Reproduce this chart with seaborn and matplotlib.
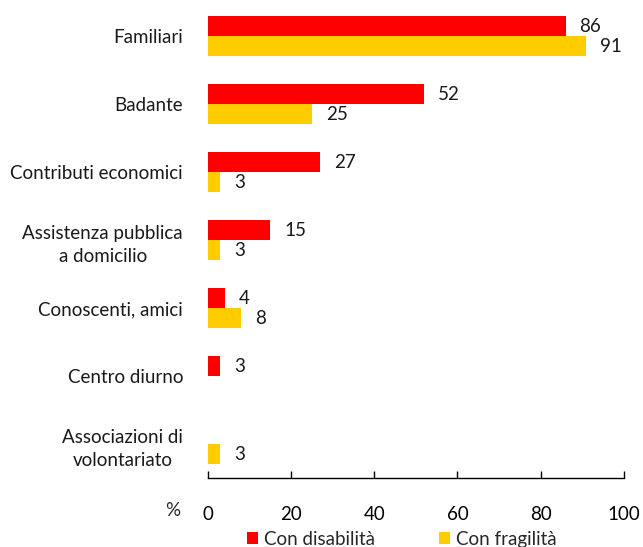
import matplotlib
matplotlib.use("Agg")
import matplotlib.pyplot as plt
import seaborn as sns
import pandas as pd
import numpy as np

categorie = ["Familiari", "Badante", "Contributi economici",
             "Assistenza pubblica\na domicilio", "Conoscenti, amici",
             "Centro diurno", "Associazioni di\nvolontariato"]
disabilita = [86, 52, 27, 15, 4, 3, None]
fragilita = [91, 25, 3, 3, 8, None, 3]
serie = ["Con disabilità", "Con fragilità"]
colori = ["#FF0000", "#FFCC00"]

rows = []
for c, d, f in zip(categorie, disabilita, fragilita):
    if d is not None:
        rows.append((c, serie[0], d))
    if f is not None:
        rows.append((c, serie[1], f))
df = pd.DataFrame(rows, columns=["categoria", "gruppo", "valore"])

sns.set_style("white")
plt.rcParams["font.family"] = ["Lato", "DejaVu Sans"]
fs = 13.5

fig = plt.figure(figsize=(6.43, 5.47), dpi=100)
ax = fig.add_axes([0.3235, 0.126, 0.6465, 0.870])

sns.barplot(data=df, y="categoria", x="valore", hue="gruppo", order=categorie,
            hue_order=serie, palette=colori, orient="h", width=0.59,
            saturation=1, errorbar=None, linewidth=0, ax=ax)

for cont in ax.containers:
    labels = [f"{v:.0f}" for v in cont.datavalues]
    ax.bar_label(cont, labels=labels, padding=10, fontsize=fs, color="#1a1a1a")

ax.set_xlim(0, 100)
ax.set_ylim(6.5, -0.5)
ax.set_xticks(np.arange(0, 101, 20))
ax.set_xlabel("")
ax.set_ylabel("")
for s in ["top", "right", "left"]:
    ax.spines[s].set_visible(False)
ax.spines["bottom"].set_color("black")
ax.spines["bottom"].set_linewidth(1)
ax.tick_params(axis="x", direction="in", length=5, width=1, pad=20,
               labelsize=fs, colors="black", bottom=True)
ax.tick_params(axis="y", length=0, pad=18, labelsize=fs)
for t in ax.get_yticklabels():
    t.set_multialignment("center")
    t.set_linespacing(1.45)
    t.set_color("#1a1a1a")
ax.text(-0.085, -0.068, "%", transform=ax.transAxes, ha="center", va="center",
        fontsize=fs)

leg = ax.legend(loc="upper center", bbox_to_anchor=(0.466, -0.095), ncol=2,
                frameon=False, fontsize=fs, handlelength=0.6, handleheight=0.6,
                handletextpad=0.3, columnspacing=3.4, borderaxespad=0)

fig.savefig("out.png", dpi=100)
